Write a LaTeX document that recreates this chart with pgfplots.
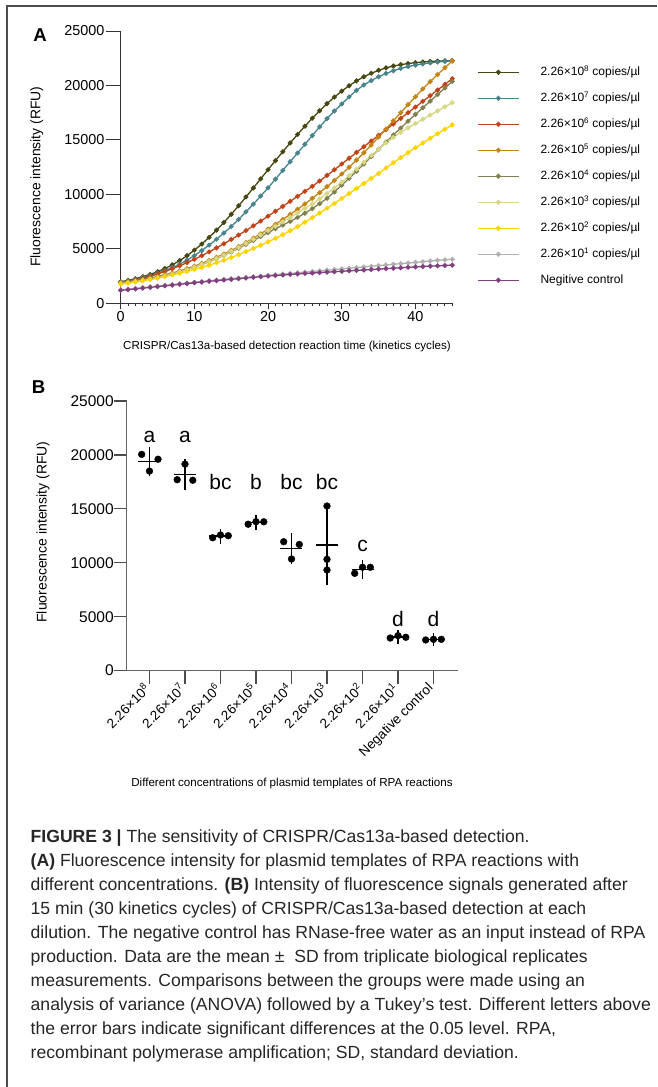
\documentclass[border=0pt]{standalone}
\usepackage{pgfplots}
\usepackage{pgfplotstable}
\pgfplotsset{compat=1.18}
\usepackage{fontspec}
\setmainfont{Liberation Sans}

\definecolor{c8}{RGB}{70,70,16}
\definecolor{c7}{RGB}{72,132,140}
\definecolor{c6}{RGB}{192,68,24}
\definecolor{c5}{RGB}{196,132,20}
\definecolor{c4}{RGB}{128,128,80}
\definecolor{c3}{RGB}{216,216,132}
\definecolor{c2}{RGB}{252,212,0}
\definecolor{c1}{RGB}{176,176,176}
\definecolor{cn}{RGB}{128,64,128}

\pgfplotstableread{
x s8 s7 s6 s5 s4 s3 s2 s1 neg
0 1980 1930 1880 1910 1870 1820 1770 1240 1190
1 2100 2050 2000 1990 1950 1900 1850 1300 1250
2 2260 2200 2140 2090 2050 2000 1950 1370 1320
3 2440 2370 2300 2200 2160 2110 2060 1440 1390
4 2650 2560 2480 2320 2280 2230 2180 1510 1460
5 2900 2770 2690 2460 2410 2370 2310 1580 1530
6 3190 3000 2920 2610 2560 2520 2450 1650 1600
7 3530 3270 3170 2780 2720 2690 2600 1720 1670
8 3920 3590 3440 2970 2900 2880 2760 1790 1740
9 4370 3960 3730 3180 3100 3090 2930 1860 1810
10 4880 4380 4040 3410 3320 3320 3110 1930 1880
11 5440 4840 4370 3660 3560 3570 3300 2000 1950
12 6050 5340 4720 3930 3820 3840 3500 2070 2020
13 6710 5880 5090 4220 4100 4130 3720 2140 2080
14 7420 6450 5470 4530 4400 4440 3950 2200 2140
15 8170 7050 5860 4860 4720 4770 4200 2260 2200
16 8950 7700 6260 5210 5050 5120 4460 2320 2260
17 9760 8400 6680 5580 5400 5490 4740 2380 2320
18 10590 9100 7110 5970 5760 5870 5030 2440 2380
19 11430 9850 7550 6380 6130 6270 5330 2500 2440
20 12270 10600 8000 6810 6490 6680 5640 2560 2500
21 13100 11400 8450 7250 6850 7080 5960 2620 2550
22 13920 12200 8900 7700 7180 7480 6300 2680 2600
23 14720 13000 9360 8160 7520 7890 6660 2740 2650
24 15500 13800 9820 8630 7880 8300 7040 2800 2700
25 16260 14600 10280 9120 8270 8700 7440 2860 2740
26 16990 15400 10740 9630 8690 9130 7860 2920 2780
27 17680 16200 11230 10160 9150 9590 8290 2980 2820
28 18330 16950 11740 10710 9640 10080 8730 3040 2860
29 18930 17650 12260 11280 10220 10590 9170 3100 2900
30 19480 18300 12790 11870 10850 11130 9620 3160 2940
31 19980 18950 13320 12490 11470 11710 10080 3220 2980
32 20420 19550 13850 13140 12120 12320 10540 3280 3020
33 20800 20050 14380 13820 12790 12950 11000 3340 3060
34 21120 20450 14900 14530 13470 13570 11460 3400 3100
35 21390 20800 15420 15260 14140 14150 11920 3460 3140
36 21610 21100 15940 16000 14800 14720 12420 3520 3180
37 21780 21350 16460 16750 15450 15230 12900 3580 3220
38 21910 21560 16980 17500 16090 15690 13370 3640 3260
39 22010 21730 17500 18240 16720 16110 13830 3700 3300
40 22090 21870 18020 18960 17340 16510 14280 3760 3340
41 22150 21980 18540 19680 17950 16900 14720 3820 3380
42 22200 22070 19060 20350 18560 17280 15150 3880 3410
43 22240 22150 19580 21000 19170 17660 15570 3940 3440
44 22260 22210 20100 21630 19770 18040 15980 3990 3470
45 22280 22260 20620 22250 20370 18420 16380 4040 3500
}\kinetics

\pgfplotstableread{
x y
0.78 20050
1.24 19600
1.00 18500
2.00 19150
1.78 17700
2.22 17650
2.78 12320
3.00 12570
3.22 12510
3.78 13570
4.00 13810
4.22 13800
4.78 11950
5.22 11700
5.00 10350
6.00 15260
6.00 10320
6.00 9330
6.78 9020
7.00 9580
7.22 9580
7.78 3020
8.00 3240
8.22 3090
8.78 2840
9.00 2900
9.22 2900
}\pointsB

\pgfplotstableread{
x m sd
1 19383 797
2 18167 852
3 12467 130
4 13727 136
5 11333 861
6 11637 3177
7 9393 323
8 3117 112
9 2880 35
}\meansB

\begin{document}
\begin{tikzpicture}[x=1pt,y=1pt]
\useasboundingbox (0pt,0pt) rectangle (657pt,1087pt);
% frame
\draw[line width=1.5pt, black!70] (7pt,0pt) -- (7pt,1081pt) -- (657pt,1081pt);

% ---------------- Panel A ----------------
\node[font=\bfseries\fontsize{18.6}{20}\selectfont] at (40pt,1052pt) {A};
\node[rotate=90, font=\fontsize{13.9}{16}\selectfont] at (36.7pt,910.3pt) {Fluorescence intensity (RFU)};
\node[font=\fontsize{11.6}{14}\selectfont] at (287pt,740pt) {CRISPR/Cas13a-based detection reaction time (kinetics cycles)};

\begin{axis}[
  at={(120.7pt,783.7pt)}, anchor=south west,
  scale only axis, width=331.6pt, height=272.3pt,
  xmin=0, xmax=45, ymin=0, ymax=25000,
  axis x line*=bottom, axis y line*=left,
  axis line style={line width=1pt, black!80},
  every tick/.style={line width=0.9pt, black!80},
  tick align=outside,
  xtick={0,10,20,30,40}, minor xtick={1,...,45},
  ytick={0,5000,10000,15000,20000,25000},
  ytick style={/pgfplots/major tick length=15pt},
  xtick style={/pgfplots/major tick length=6pt},
  minor tick length=3pt,
  tick label style={font=\fontsize{14.4}{16}\selectfont, black},
  yticklabel style={xshift=-8.5pt},
  /pgf/number format/assume math mode=true,
  /pgf/number format/1000 sep={},
  scaled y ticks=false,
  clip=false,
  legend style={at={(axis description cs:1.0745,0.873)}, anchor=north west, draw=none, fill=none,
    font=\fontsize{12}{14}\selectfont, inner sep=0pt,
    nodes={inner sep=0pt, text height=10pt, text depth=3pt},
    row sep=13pt,
    /tikz/every odd column/.append style={column sep=21pt}},
  legend cell align=left,
  legend image code/.code={\draw[mark repeat=2, mark phase=2, #1] plot coordinates {(0pt,0pt) (20.5pt,0pt) (41pt,0pt)};},
  every axis plot/.append style={line width=1.3pt, mark=*, mark size=1.8pt},
]
\addplot[c8, mark options={fill=c8}] table[x=x,y=s8] {\kinetics};
\addlegendentry{2.26×10\textsuperscript{8} copies/µl}
\addplot[c7, mark options={fill=c7}] table[x=x,y=s7] {\kinetics};
\addlegendentry{2.26×10\textsuperscript{7} copies/µl}
\addplot[c6, mark options={fill=c6}] table[x=x,y=s6] {\kinetics};
\addlegendentry{2.26×10\textsuperscript{6} copies/µl}
\addplot[c5, mark options={fill=c5}] table[x=x,y=s5] {\kinetics};
\addlegendentry{2.26×10\textsuperscript{5} copies/µl}
\addplot[c4, mark options={fill=c4}] table[x=x,y=s4] {\kinetics};
\addlegendentry{2.26×10\textsuperscript{4} copies/µl}
\addplot[c3, mark options={fill=c3}] table[x=x,y=s3] {\kinetics};
\addlegendentry{2.26×10\textsuperscript{3} copies/µl}
\addplot[c2, mark options={fill=c2}] table[x=x,y=s2] {\kinetics};
\addlegendentry{2.26×10\textsuperscript{2} copies/µl}
\addplot[c1, mark options={fill=c1}] table[x=x,y=s1] {\kinetics};
\addlegendentry{2.26×10\textsuperscript{1} copies/µl}
\addplot[cn, mark options={fill=cn}] table[x=x,y=neg] {\kinetics};
\addlegendentry{Negitive control}
\end{axis}

% ---------------- Panel B ----------------
\node[font=\bfseries\fontsize{18.6}{20}\selectfont] at (38.5pt,700pt) {B};
\node[rotate=90, font=\fontsize{14}{16}\selectfont] at (43pt,555pt) {Fluorescence intensity (RFU)};
\node[font=\fontsize{11.6}{14}\selectfont] at (292pt,303pt) {Different concentrations of plasmid templates of RPA reactions};

\begin{axis}[
  at={(126.7pt,416.4pt)}, anchor=south west,
  scale only axis, width=330.8pt, height=269.6pt,
  xmin=0.358, xmax=9.676, ymin=0, ymax=25000,
  axis x line*=bottom, axis y line*=left,
  axis line style={line width=1.5pt, black!60},
  every tick/.style={line width=1.2pt, black!70},
  tick align=outside,
  major tick length=13pt,
  xtick={1,2,3,4,5,6,7,8,9},
  xticklabels={2.26×10\textsuperscript{8},2.26×10\textsuperscript{7},2.26×10\textsuperscript{6},2.26×10\textsuperscript{5},2.26×10\textsuperscript{4},2.26×10\textsuperscript{3},2.26×10\textsuperscript{2},2.26×10\textsuperscript{1},Negative control},
  xticklabel style={rotate=45, anchor=east, font=\fontsize{13.5}{15}\selectfont, black},
  ytick={0,5000,10000,15000,20000,25000},
  yticklabel style={font=\fontsize{15.5}{17}\selectfont, black, xshift=3.5pt},
  /pgf/number format/assume math mode=true,
  /pgf/number format/1000 sep={},
  scaled y ticks=false,
  clip=false,
]
\addplot[only marks, mark=*, mark size=3.4pt, black] table[x=x,y=y] {\pointsB};
\addplot[only marks, mark=-, mark size=11pt, mark options={line width=1.5pt}, black,
  error bars/.cd, y dir=both, y explicit, error mark=-,
  error mark options={mark size=6pt, line width=1.5pt, black},
  error bar style={line width=1.5pt, black}]
  table[x=x, y=m, y error=sd] {\meansB};
\node[anchor=base, font=\fontsize{21}{24}\selectfont] at (axis cs:1,21130) {a};
\node[anchor=base, font=\fontsize{21}{24}\selectfont] at (axis cs:2,21130) {a};
\node[anchor=base, font=\fontsize{21}{24}\selectfont] at (axis cs:3,16750) {bc};
\node[anchor=base, font=\fontsize{21}{24}\selectfont] at (axis cs:4,16750) {b};
\node[anchor=base, font=\fontsize{21}{24}\selectfont] at (axis cs:5,16750) {bc};
\node[anchor=base, font=\fontsize{21}{24}\selectfont] at (axis cs:6,16750) {bc};
\node[anchor=base, font=\fontsize{21}{24}\selectfont] at (axis cs:7,11025) {c};
\node[anchor=base, font=\fontsize{21}{24}\selectfont] at (axis cs:8,4070) {d};
\node[anchor=base, font=\fontsize{21}{24}\selectfont] at (axis cs:9,4070) {d};
\end{axis}

% ---------------- Caption ----------------
\begin{scope}[every node/.style={anchor=base west, inner sep=0pt, font=\fontsize{17.6}{20}\selectfont, text=black!85}]
\node at (30.5pt,244.0pt) {\textbf{FIGURE 3 |} The sensitivity of CRISPR/Cas13a-based detection.};
\node at (30.5pt,220.1pt) {\textbf{(A)} Fluorescence intensity for plasmid templates of RPA reactions with};
\node at (30.5pt,196.2pt) {different concentrations. \textbf{(B)} Intensity of fluorescence signals generated after};
\node at (30.5pt,172.3pt) {15 min (30 kinetics cycles) of CRISPR/Cas13a-based detection at each};
\node at (30.5pt,148.4pt) {dilution. The negative control has RNase-free water as an input instead of RPA};
\node at (30.5pt,124.5pt) {production. Data are the mean ±\ \ SD from triplicate biological replicates};
\node at (30.5pt,100.6pt) {measurements. Comparisons between the groups were made using an};
\node at (30.5pt,76.7pt) {analysis of variance (ANOVA) followed by a Tukey’s test. Different letters above};
\node at (30.5pt,52.8pt) {the error bars indicate significant differences at the 0.05 level. RPA,};
\node at (30.5pt,28.9pt) {recombinant polymerase amplification; SD, standard deviation.};
\end{scope}
\end{tikzpicture}
\end{document}
